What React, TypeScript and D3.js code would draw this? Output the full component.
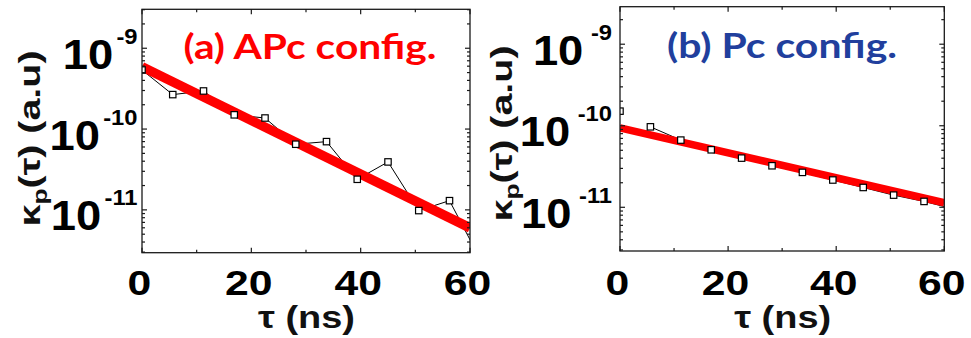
import React from "react";
import * as d3 from "d3";

// ---- data ----
const tau = [0, 5.625, 11.25, 16.875, 22.5, 28.125, 33.75, 39.375, 45, 50.625, 56.25, 61.875];
const kappaAPc = [5.38e-10, 2.67e-10, 2.96e-10, 1.5e-10, 1.37e-10, 6.49e-11, 6.99e-11, 2.39e-11, 3.92e-11, 9.8e-12, 1.3e-11, 2.45e-12];
const kappaPc = [1.51e-10, 9.7e-11, 6.67e-11, 5.07e-11, 4.01e-11, 3.23e-11, 2.68e-11, 2.16e-11, 1.75e-11, 1.41e-11, 1.18e-11, 9.5e-12];
const fitTau = [0, 60];
const fitAPc = [5.9e-10, 5.98e-12];
const fitPc = [9.44e-11, 1.135e-11];
const xMajorTicks = [0, 20, 40, 60];
const xMinorTicks = [10, 30, 50];
const yDecades = [-9, -10, -11];
const titles = ["(a) APc config.", "(b) Pc config."];
const titleColors = ["#ff0000", "#213f9d"];

type Panel = {
  key: string;
  x0: number; x1: number; y0: number; y1: number;
  logTop: number; logBottom: number;
  data: number[]; fit: number[]; lineFrom: number;
  title: string; titleColor: string;
  titleX: number; titleY: number; titleLen: number;
  labelRight: number; supDx: number;
  yTitleX: number; yTitleCY: number;
  fitWidth: number;
};

const panels: Panel[] = [
  {
    key: "a", x0: 142, x1: 470, y0: 9.3, y1: 252.7, logTop: -8.518, logBottom: -11.53,
    data: kappaAPc, fit: fitAPc, lineFrom: 0, title: titles[0], titleColor: titleColors[0],
    titleX: 183.5, titleY: 59.3, titleLen: 253, labelRight: 137.5, supDx: 3,
    yTitleX: 40, yTitleCY: 138.5, fitWidth: 9.5,
  },
  {
    key: "b", x0: 620, x1: 944.3, y0: 6.7, y1: 251, logTop: -8.54, logBottom: -11.536,
    data: kappaPc, fit: fitPc, lineFrom: 1, title: titles[1], titleColor: titleColors[1],
    titleX: 667, titleY: 57.5, titleLen: 230, labelRight: 612, supDx: 7,
    yTitleX: 512, yTitleCY: 133.5, fitWidth: 7.5,
  },
];

const numFont = "'Liberation Sans', Arial, Helvetica, sans-serif";

function PanelView({ p }: { p: Panel }) {
  const x = d3.scaleLinear().domain([0, 60]).range([p.x0, p.x1]);
  const y = d3.scaleLog().domain([Math.pow(10, p.logBottom), Math.pow(10, p.logTop)]).range([p.y1, p.y0]);
  const pts = tau.map((t, i) => [t, p.data[i]] as [number, number]);
  const line = d3.line<[number, number]>().x((d) => x(d[0])).y((d) => y(d[1]));
  const fitPts = fitTau.map((t, i) => [t, p.fit[i]] as [number, number]);
  const clipId = "clip-" + p.key;

  const minorY: number[] = [];
  for (let e = -12; e <= -8; e++) {
    for (let m = 2; m <= 9; m++) {
      const v = m * Math.pow(10, e);
      const lv = Math.log10(v);
      if (lv > p.logBottom && lv < p.logTop) minorY.push(v);
    }
  }
  const tickColor = "#1a1a1a";
  const maj = 5, mnr = 3;
  const ticks: JSX.Element[] = [];
  yDecades.forEach((d) => {
    const yy = y(Math.pow(10, d));
    ticks.push(<line key={"yl" + d} x1={p.x0} x2={p.x0 + maj} y1={yy} y2={yy} />);
    ticks.push(<line key={"yr" + d} x1={p.x1} x2={p.x1 - maj} y1={yy} y2={yy} />);
  });
  minorY.forEach((v, i) => {
    const yy = y(v);
    ticks.push(<line key={"ml" + i} x1={p.x0} x2={p.x0 + mnr} y1={yy} y2={yy} />);
    ticks.push(<line key={"mr" + i} x1={p.x1} x2={p.x1 - mnr} y1={yy} y2={yy} />);
  });
  xMajorTicks.forEach((t) => {
    const xx = x(t);
    ticks.push(<line key={"xb" + t} x1={xx} x2={xx} y1={p.y1} y2={p.y1 - maj} />);
    ticks.push(<line key={"xt" + t} x1={xx} x2={xx} y1={p.y0} y2={p.y0 + maj} />);
  });
  xMinorTicks.forEach((t) => {
    const xx = x(t);
    ticks.push(<line key={"mb" + t} x1={xx} x2={xx} y1={p.y1} y2={p.y1 - mnr} />);
    ticks.push(<line key={"mt" + t} x1={xx} x2={xx} y1={p.y0} y2={p.y0 + mnr} />);
  });

  return (
    <g>
      <defs>
        <clipPath id={clipId}>
          <rect x={p.x0} y={p.y0} width={p.x1 - p.x0} height={p.y1 - p.y0} />
        </clipPath>
      </defs>
      <g clipPath={`url(#${clipId})`}>
        <path d={line(pts.slice(p.lineFrom)) || ""} fill="none" stroke="#000" strokeWidth={1} />
        <path d={line(fitPts) || ""} fill="none" stroke="#ff0000" strokeWidth={p.fitWidth} />
        {pts.map((d, i) => (
          <rect key={i} x={x(d[0]) - 3.2} y={y(d[1]) - 3.2} width={6.4} height={6.4} fill="#fff" stroke="#000" strokeWidth={1.2} />
        ))}
      </g>
      <rect x={p.x0} y={p.y0} width={p.x1 - p.x0} height={p.y1 - p.y0} fill="none" stroke={tickColor} strokeWidth={1.3} />
      <g stroke={tickColor} strokeWidth={1.2}>{ticks}</g>
      {yDecades.map((d) => {
        const yy = y(Math.pow(10, d));
        return (
          <g key={"lab" + d} transform={`translate(${p.labelRight},${yy + 20.5}) scale(1.08,1)`}>
            <text textAnchor="end" fontFamily={numFont} fontWeight="bold" fill="#000">
              <tspan fontSize={42}>10</tspan>
              <tspan fontSize={22} dy={-25} dx={p.supDx}>{String(d)}</tspan>
            </text>
          </g>
        );
      })}
      {xMajorTicks.map((t) => (
        <g key={"xl" + t} transform={`translate(${x(t) - 2.5},${295}) scale(1.22,1)`}>
          <text textAnchor="middle" fontFamily={numFont} fontWeight="bold" fontSize={35} fill="#000">{t}</text>
        </g>
      ))}
      <text x={(p.x0 + p.x1) / 2 - 48} y={328} fontFamily={numFont} fontWeight="bold" fontSize={31} fill="#111"
        textLength={97} lengthAdjust="spacingAndGlyphs">τ (ns)</text>
      <g transform={`translate(${p.yTitleX},${p.yTitleCY}) rotate(-90)`}>
        <text x={-88} y={0} fontFamily={numFont} fontWeight="bold" fontSize={30} fill="#111" textLength={176} lengthAdjust="spacingAndGlyphs">
          κ<tspan fontSize={20} dy={7}>p</tspan><tspan dy={-7}>(τ) (a.u)</tspan>
        </text>
      </g>
      <text x={p.titleX} y={p.titleY} fontFamily="Lato, 'Open Sans', sans-serif" fontWeight="bold" fontSize={35}
        fill={p.titleColor} textLength={p.titleLen} lengthAdjust="spacingAndGlyphs">{p.title}</text>
    </g>
  );
}

export default function App() {
  return (
    <svg width={971} height={338} style={{ position: "absolute", left: 0, top: 0, background: "#fff" }}>
      <rect x={0} y={0} width={971} height={338} fill="#fff" />
      {panels.map((p) => (
        <PanelView key={p.key} p={p} />
      ))}
    </svg>
  );
}
